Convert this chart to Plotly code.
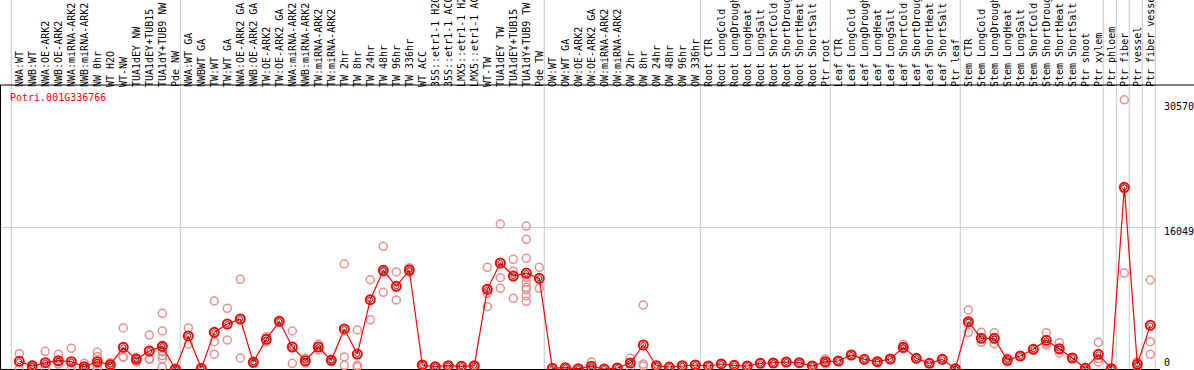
import plotly.graph_objects as go

gene_id = "Potri.001G336766"

categories = [
    "NWA:WT", "NWB:WT", "NWA:OE-ARK2", "NWB:OE-ARK2", "NWA:miRNA-ARK2", "NWB:miRNA-ARK2",
    "NW 0hr", "WT H2O", "WT-NW", "TUA1dEY NW", "TUA1dEY+TUB15", "TUA1dY+TUB9 NW", "Pde NW",
    "NWA:WT GA", "NWBWT GA", "TW:WT", "TW:WT GA", "NWA:OE-ARK2 GA", "NWB:OE-ARK2 GA",
    "TW:OE-ARK2", "TW:OE-ARK2 GA", "NWA:miRNA-ARK2", "NWB:miRNA-ARK2", "TW:miRNA-ARK2",
    "TW:miRNA-ARK2", "TW 2hr", "TW 8hr", "TW 24hr", "TW 48hr", "TW 96hr", "TW 336hr",
    "WT ACC", "35S::etr1-1 H2O", "35S::etr1-1 ACC", "LMX5::etr1-1 H2O", "LMX5::etr1-1 ACC",
    "WT-TW", "TUA1dEY TW", "TUA1dEY+TUB15", "TUA1dY+TUB9 TW", "Pde TW",
    "OW:WT", "OW:WT GA", "OW:OE-ARK2", "OW:OE-ARK2 GA", "OW:miRNA-ARK2", "OW:miRNA-ARK2",
    "OW 2hr", "OW 8hr", "OW 24hr", "OW 48hr", "OW 96hr", "OW 336hr",
    "Root CTR", "Root LongCold", "Root LongDrought", "Root LongHeat", "Root LongSalt",
    "Root ShortCold", "Root ShortDrought", "Root ShortHeat", "Root ShortSalt", "Ptr root",
    "Leaf CTR", "Leaf LongCold", "Leaf LongDrought", "Leaf LongHeat", "Leaf LongSalt",
    "Leaf ShortCold", "Leaf ShortDrought", "Leaf ShortHeat", "Leaf ShortSalt", "Ptr leaf",
    "Stem CTR", "Stem LongCold", "Stem LongDrought", "Stem LongHeat", "Stem LongSalt",
    "Stem ShortCold", "Stem ShortDrought", "Stem ShortHeat", "Stem ShortSalt", "Ptr shoot",
    "Ptr xylem", "Ptr phloem", "Ptr fiber", "Ptr vessel", "Ptr fiber vessel",
]

mean_values = [
    875, 340, 720, 945, 830, 265, 830, 490, 2460, 1100, 2045, 2575, 0,
    3750, 75, 4170, 5110, 5680, 760, 3370, 5415, 2500, 945, 2500, 985, 4545, 1700,
    7870, 11210, 9390, 11245, 455, 265, 375, 305, 375, 9050, 12040, 10560, 10900, 10300,
    75, 150, 35, 305, 0, 115, 680, 2725, 375, 225, 375, 455,
    340, 570, 420, 340, 645, 680, 795, 720, 340, 830,
    910, 1590, 1100, 830, 1135, 2460, 1215, 645, 1100, 35,
    5375, 3485, 3485, 1020, 1475, 2235, 3260, 2310, 1250, 75,
    1670, 35, 20640, 530, 4960,
]

replicate_values = [
    [1740, 10], [520, 160], [2010, 75, 75], [1670, 600, 565], [2350, 75, 65], [650, 75, 70],
    [1930, 1400, 600, 220, 0], [720, 490, 260], [4660, 1400, 1320], [1330, 1170, 800],
    [3860, 1170, 1105], [6325, 4315, 2535, 1930, 1510, 1170, 240], [0, 0],
    [4660, 2840], [75, 75], [7725, 3100, 1685], [6895, 3295], [10190, 1250], [875, 650],
    [3670, 3100], [5450, 5380], [4315, 650], [1215, 675], [2840, 2160], [1100, 870],
    [11925, 1365, 420], [4430, 420, 265], [10150, 5590], [13935, 11020, 8710],
    [11020, 7840], [11510, 11000], [455, 455], [265], [375], [305], [375],
    [11550, 8600, 7080], [16470, 10370, 9165], [12460, 11130, 8030],
    [16240, 14730, 12575, 10415, 9880, 9280, 9000, 8325, 7690], [11550, 9165],
    [75], [150], [35], [795, 120, 0], [0], [115], [1215, 640, 190], [7270, 560, 345],
    [375], [225], [375], [455],
    [340], [570], [420], [340], [645], [720, 640], [795], [720], [340], [1135, 785, 570],
    [910], [1590], [1100], [900, 760], [1135], [2800, 2300, 2280], [1215], [645], [1100], [35],
    [6700, 5255, 4170], [4170, 3485, 3030], [4130, 3450, 2875], [1250, 790], [1475], [2235],
    [4130, 2925, 2725], [2990, 2120, 1820], [1250], [75],
    [3030, 1190, 795], [35], [30570, 20460, 10890], [830, 530, 230], [10110, 3100, 1670],
]

axis_label_values = [0, 16049, 30570]
axis_label_shifts = [7, -4, -7]

# group separators (index positions of first category in each group)
group_starts = [0, 13, 41, 53, 63, 73, 84, 85, 86, 87, 88]

FONT = "DejaVu Sans Mono"
xs = list(range(len(categories)))

rep_x, rep_y = [], []
for i, reps in enumerate(replicate_values):
    for v in reps:
        rep_x.append(i)
        rep_y.append(v)

fig = go.Figure()
fig.add_trace(go.Scatter(
    x=rep_x, y=rep_y, mode="markers",
    marker=dict(symbol="circle-open", size=8, color="#e98f8f", line=dict(width=1.5)),
    hoverinfo="skip", cliponaxis=False,
))
fig.add_trace(go.Scatter(
    x=xs, y=mean_values, mode="lines+markers",
    line=dict(color="#ff0000", width=1.2),
    marker=dict(symbol="circle-open", size=9, color="#ff0000", line=dict(width=2)),
    cliponaxis=False,
))
fig.add_trace(go.Scatter(
    x=xs, y=mean_values, mode="markers",
    marker=dict(symbol="circle-open", size=5, color="#400000", line=dict(width=0.8)),
    hoverinfo="skip", cliponaxis=False,
))

shapes = []
for g in group_starts:
    shapes.append(dict(type="line", xref="x", yref="paper", x0=g - 0.62, x1=g - 0.62,
                       y0=-0.1, y1=1.5, line=dict(color="#c8c8c8", width=1), layer="below"))
shapes.append(dict(type="line", xref="paper", yref="paper", x0=-0.01, x1=1.1, y0=1, y1=1,
                   line=dict(color="black", width=1)))

annotations = [dict(
    text=gene_id, xref="paper", yref="paper", x=0, y=(370 - 97.5) / 285,
    xanchor="left", yanchor="middle", xshift=7, showarrow=False,
    font=dict(family=FONT, size=10, color="#ff0000"),
)]
for v, s in zip(axis_label_values, axis_label_shifts):
    annotations.append(dict(
        text=str(v), xref="paper", yref="y", x=1, y=v, xanchor="left", yanchor="middle",
        xshift=2, yshift=s, showarrow=False, font=dict(family=FONT, size=10, color="black"),
    ))

px_per_unit = (369 - 227.7) / 16049
fig.update_layout(
    width=1194, height=370,
    margin=dict(l=1, r=34, t=85, b=0, pad=0),
    paper_bgcolor="white", plot_bgcolor="white",
    showlegend=False,
    shapes=shapes, annotations=annotations,
    xaxis=dict(
        range=[-(19.3 - 1) / 13, -(19.3 - 1) / 13 + 1159 / 13],
        side="top", tickmode="array", tickvals=xs, ticktext=categories,
        tickangle=-90, tickfont=dict(family=FONT, size=10, color="black"),
        ticklabelstandoff=-3,
        showgrid=False, zeroline=False, ticks="", showline=False, automargin=False,
    ),
    yaxis=dict(
        range=[-1 / px_per_unit, 284 / px_per_unit],
        tickmode="array", tickvals=[16049], showticklabels=False,
        showgrid=True, gridcolor="#c8c8c8", gridwidth=1,
        zeroline=True, zerolinecolor="black", zerolinewidth=1,
        showline=True, linecolor="black", linewidth=1, ticks="", automargin=False,
    ),
)

fig.write_html(
    "out.html",
    config={"displayModeBar": False},
    post_script="document.body.style.margin='0';document.body.style.overflow='hidden';",
)
